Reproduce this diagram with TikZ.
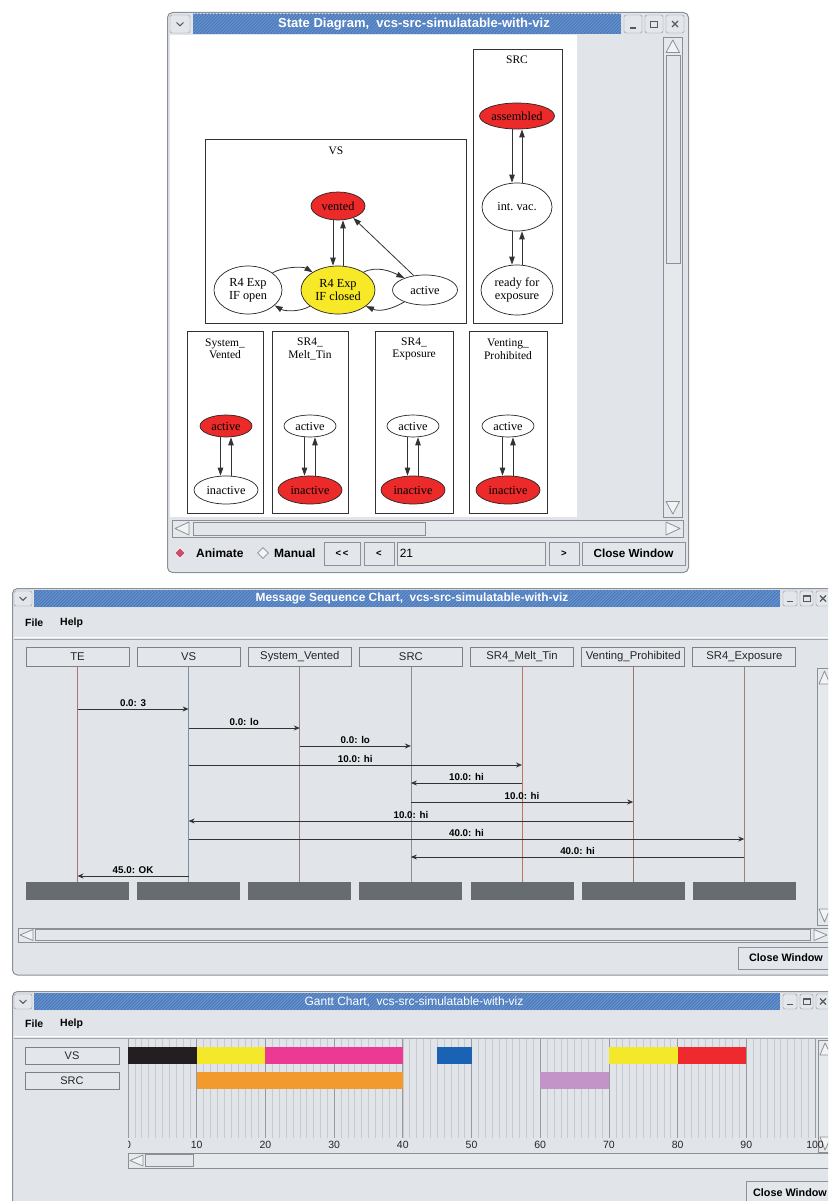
\documentclass[tikz,border=0pt]{standalone}
\usepackage{fontspec}
\setmainfont{Liberation Sans}
\newfontfamily\gvfont{Liberation Serif}
\usetikzlibrary{arrows.meta,shapes.geometric}

\definecolor{winbg}{HTML}{E1E4E8}
\definecolor{framec}{HTML}{8C9096}
\definecolor{btnfill}{HTML}{E3E6EA}
\definecolor{btnedge}{HTML}{8E9298}
\definecolor{sbtrack}{HTML}{E6E9EC}
\definecolor{titleblue}{HTML}{4A79BC}
\definecolor{titlehatch}{HTML}{6C95CE}
\definecolor{gvred}{HTML}{EC2A2A}
\definecolor{gvyellow}{HTML}{F7E928}
\definecolor{endblock}{HTML}{676C70}
\definecolor{ganttblack}{HTML}{231F20}
\definecolor{ganttyellow}{HTML}{F4E82A}
\definecolor{ganttpink}{HTML}{EC3A94}
\definecolor{ganttblue}{HTML}{1A62B4}
\definecolor{ganttred}{HTML}{EE2A2E}
\definecolor{ganttorange}{HTML}{F39A2E}
\definecolor{ganttlilac}{HTML}{C294C8}
\definecolor{radiopink}{HTML}{C8506E}
\definecolor{gridminor}{HTML}{C6CACE}
\definecolor{gridmajor}{HTML}{979BA0}
\definecolor{lineTE}{HTML}{A8766E}
\definecolor{lineVS}{HTML}{7A92A4}
\definecolor{lineSV}{HTML}{968480}
\definecolor{lineSRC}{HTML}{8A9096}
\definecolor{lineMT}{HTML}{C0735E}
\definecolor{lineVP}{HTML}{A07470}
\definecolor{lineEX}{HTML}{94847E}

% blue hatched strip behind a window title
\newcommand\titlestrip[4]{%
  \fill[titleblue] (#1,#2) rectangle (#3,#4);
  \begin{scope}
    \clip (#1,#2) rectangle (#3,#4);
    \foreach \k in {0,3.2,...,800} \draw[titlehatch, line width=0.9pt] ({#1-24+\k},#4) -- ++(24,-24);
  \end{scope}}
% window menu button with chevron
\newcommand\menubtn[4]{%
  \draw[btnedge, fill=btnfill, rounded corners=2pt] (#1,#2) rectangle (#3,#4);
  \draw[black!65, line width=1pt] ({(#1+#3)/2-3.5},{(#2+#4)/2-1.5}) -- ({(#1+#3)/2},{(#2+#4)/2+1.8}) -- ({(#1+#3)/2+3.5},{(#2+#4)/2-1.5});}
\newcommand\minbtn[4]{%
  \draw[btnedge, fill=btnfill, rounded corners=1.5pt] (#1,#2) rectangle (#3,#4);
  \fill[black!65] ({(#1+#3)/2-3},{#4-5.5}) rectangle ({(#1+#3)/2+3},{#4-3.8});}
\newcommand\maxbtn[4]{%
  \draw[btnedge, fill=btnfill, rounded corners=1.5pt] (#1,#2) rectangle (#3,#4);
  \draw[black!65, line width=0.8pt] ({(#1+#3)/2-3.5},{(#2+#4)/2-3}) rectangle ({(#1+#3)/2+3.5},{(#2+#4)/2+3});
  \draw[black!65, line width=1.6pt] ({(#1+#3)/2-3.5},{(#2+#4)/2-2.4}) -- ({(#1+#3)/2+3.5},{(#2+#4)/2-2.4});}
\newcommand\closebtn[4]{%
  \draw[btnedge, fill=btnfill, rounded corners=1.5pt] (#1,#2) rectangle (#3,#4);
  \draw[black!65, line width=1.2pt] ({(#1+#3)/2-3},{(#2+#4)/2-3}) -- ({(#1+#3)/2+3},{(#2+#4)/2+3})
    ({(#1+#3)/2-3},{(#2+#4)/2+3}) -- ({(#1+#3)/2+3},{(#2+#4)/2-3});}

\begin{document}
\begin{tikzpicture}[x=1pt,y=-1pt,
  titletext/.style={text=white, inner sep=0pt},
  menutext/.style={anchor=west, inner sep=0pt, font=\bfseries\fontsize{10.5}{12}\selectfont},
  gbtn/.style={draw=btnedge, fill=btnfill, line width=0.8pt, inner sep=0pt, font=\bfseries\fontsize{11.7}{13}\selectfont},
  field/.style={draw=framec, fill=sbtrack, line width=0.8pt, inner sep=0pt},
  sbedge/.style={draw=framec, fill=sbtrack, line width=0.8pt},
  sbthumb/.style={draw=framec, fill=btnfill, line width=0.8pt},
  sbarrow/.style={draw=framec, fill=white!55!winbg, line width=0.8pt, line join=round},
  gvn/.style={ellipse, draw=black!85, line width=0.7pt, inner sep=0pt, align=center, fill=white,
    font=\gvfont\fontsize{12.3}{13}\selectfont},
  gvred/.style={gvn, fill=gvred},
  gvyel/.style={gvn, fill=gvyellow},
  gve/.style={draw=black!80, line width=0.8pt, -{Triangle[length=8pt,width=5.5pt]}},
  clus/.style={draw=black!80, line width=0.8pt},
  clab/.style={align=center, inner sep=0pt, font=\gvfont\fontsize{11.5}{12.5}\selectfont},
  hdr/.style={draw=black!50, fill=btnfill, line width=1pt, inner sep=0pt, text=black!85,
    font=\fontsize{11.3}{12}\selectfont},
  blk/.style={fill=endblock, minimum width=103pt, minimum height=18pt, inner sep=0pt},
  life/.style={line width=0.7pt},
  msg/.style={draw=black!80, line width=0.8pt, -{Stealth[length=6pt,width=5pt]}},
  mlabel/.style={midway, anchor=base, yshift=3pt, inner sep=0pt, font=\bfseries\fontsize{9.8}{10}\selectfont},
  tick/.style={inner sep=0pt, font=\fontsize{10.5}{11}\selectfont, text=black!85}
]
\useasboundingbox (0,0) rectangle (828,1201);
\fill[white] (0,0) rectangle (828,1201);
\begin{scope}
\clip (0,0) rectangle (828,1201);

%% ================= State diagram window =================
\draw[framec, fill=winbg, line width=1pt, rounded corners=5pt] (167.5,12.5) rectangle (688.5,572.5);
\menubtn{170}{15}{190}{33}
\titlestrip{193}{14}{621}{34}
\node[titletext, font=\bfseries\fontsize{13}{14}\selectfont] (sdtitle) at (414,24.5) {State Diagram,\ \ vcs-src-simulatable-with-viz};
\minbtn{624}{15}{642}{33}
\maxbtn{645}{15}{663}{33}
\closebtn{666}{15}{684}{33}
\fill[white] (170,35) rectangle (577,517);

% scrollbars
\draw[sbedge] (663.5,37) rectangle (682,517);
\draw[sbarrow] (672.8,40) -- (666,52.5) -- (679.5,52.5) -- cycle;
\draw[sbthumb] (666,55) rectangle (680,263);
\draw[sbarrow] (672.8,514) -- (666,501.5) -- (679.5,501.5) -- cycle;
\draw[sbedge] (172,520) rectangle (683,537);
\draw[sbarrow] (175,528.5) -- (189,522) -- (189,535) -- cycle;
\draw[sbthumb] (193,522) rectangle (425,535.5);
\draw[sbarrow] (680,528.5) -- (666,522) -- (666,535) -- cycle;

% bottom controls
\node[diamond, fill=radiopink, draw=white, line width=0.8pt, minimum size=11pt, inner sep=0pt] (radioA) at (180,553) {};
\node[anchor=west, inner sep=0pt, font=\bfseries\fontsize{12}{13}\selectfont] (txtA) at (196,553) {Animate};
\node[diamond, fill=white!60!winbg, draw=framec, line width=0.8pt, minimum size=11pt, inner sep=0pt] (radioM) at (263,553) {};
\node[anchor=west, inner sep=0pt, font=\bfseries\fontsize{12}{13}\selectfont] (txtM) at (274,553) {Manual};
\node[gbtn, minimum width=36pt, minimum height=23pt, font=\bfseries\fontsize{9.5}{10}\selectfont] (bFirst) at (342,553.5) {<\,<};
\node[gbtn, minimum width=30pt, minimum height=23pt, font=\bfseries\fontsize{9.5}{10}\selectfont] (bPrev) at (379,553.5) {<};
\node[field, minimum width=148pt, minimum height=23pt] (fStep) at (471,553.5) {};
\node[anchor=west, inner sep=0pt, font=\fontsize{12}{13}\selectfont] (fVal) at ([xshift=3pt]fStep.west) {21};
\node[gbtn, minimum width=30pt, minimum height=23pt, font=\bfseries\fontsize{9.5}{10}\selectfont] (bNext) at (564,553.5) {>};
\node[gbtn, minimum width=103pt, minimum height=23pt] (bCloseSD) at (633.5,553.5) {Close Window};

% SRC cluster
\draw[clus] (473,49) rectangle (562,323);
\node[clab] (labSRC) at (517,60) {SRC};
\node[gvred, minimum width=75pt, minimum height=26pt] (assembled) at (517,116) {assembled};
\node[gvn, minimum width=70pt, minimum height=48pt] (intvac) at (517,207) {int.\ vac.};
\node[gvn, minimum width=72pt, minimum height=50pt] (ready) at (517,290) {ready for\\exposure};
\draw[gve] ([xshift=-5pt]assembled.south) -- ([xshift=-5pt]intvac.north);
\draw[gve] ([xshift=5pt]intvac.north) -- ([xshift=5pt]assembled.south);
\draw[gve] ([xshift=-5pt]intvac.south) -- ([xshift=-5pt]ready.north);
\draw[gve] ([xshift=5pt]ready.north) -- ([xshift=5pt]intvac.south);

% VS cluster
\draw[clus] (205,139) rectangle (466,323);
\node[clab] (labVS) at (336,151) {VS};
\node[gvred, minimum width=54pt, minimum height=28pt] (vented) at (338,206) {vented};
\node[gvyel, minimum width=74pt, minimum height=48pt] (ifclosed) at (338,290) {R4 Exp\\IF closed};
\node[gvn, minimum width=68pt, minimum height=48pt] (ifopen) at (248,290) {R4 Exp\\IF open};
\node[gvn, minimum width=65pt, minimum height=30pt] (vsactive) at (425,290) {active};
\draw[gve] ([xshift=-5pt]vented.south) -- ([xshift=-5pt]ifclosed.north);
\draw[gve] ([xshift=5pt]ifclosed.north) -- ([xshift=5pt]vented.south);
\draw[gve] (vsactive.128) -- (vented.-38);
\draw[gve] (ifopen.35) .. controls +(10,-6) and +(-10,-6) .. (ifclosed.145);
\draw[gve] (ifclosed.210) .. controls +(-10,6) and +(10,6) .. (ifopen.-30);
\draw[gve] (ifclosed.35) .. controls +(14,-7) and +(-12,-6) .. (vsactive.150);
\draw[gve] (vsactive.210) .. controls +(-12,7) and +(14,6) .. (ifclosed.-30);

% two-state clusters
\draw[clus] (187,331) rectangle (263,513);
\node[clab] (labSV) at (225,349) {System\_\\Vented};
\node[gvred, minimum width=52pt, minimum height=22pt] (svA) at (226,426) {active};
\node[gvn, minimum width=64pt, minimum height=28pt] (svI) at (226,490) {inactive};
\draw[clus] (272,331) rectangle (348,513);
\node[clab] (labMT) at (310,349) {SR4\_\\Melt\_Tin};
\node[gvn, minimum width=52pt, minimum height=22pt] (mtA) at (310,426) {active};
\node[gvred, minimum width=64pt, minimum height=28pt] (mtI) at (310,490) {inactive};
\draw[clus] (375,331) rectangle (453,513);
\node[clab] (labEX) at (414,349) {SR4\_\\Exposure};
\node[gvn, minimum width=52pt, minimum height=22pt] (exA) at (413,426) {active};
\node[gvred, minimum width=64pt, minimum height=28pt] (exI) at (413,490) {inactive};
\draw[clus] (469,331) rectangle (547,513);
\node[clab] (labVP) at (508,349) {Venting\_\\Prohibited};
\node[gvn, minimum width=52pt, minimum height=22pt] (vpA) at (508,426) {active};
\node[gvred, minimum width=64pt, minimum height=28pt] (vpI) at (508,490) {inactive};
\foreach \a/\i in {svA/svI, mtA/mtI, exA/exI, vpA/vpI}{
  \draw[gve] ([xshift=-5.5pt]\a.south) -- ([xshift=-5.5pt]\i.north);
  \draw[gve] ([xshift=5pt]\i.north) -- ([xshift=5pt]\a.south);
}

%% ================= Message sequence chart window =================
\draw[framec, fill=winbg, line width=1pt, rounded corners=5pt] (12.5,588.5) rectangle (850,975);
\menubtn{14}{591}{32}{606}
\titlestrip{34}{590}{780}{607}
\node[titletext, font=\bfseries\fontsize{11.9}{13}\selectfont] (msctitle) at (412,598.5) {Message Sequence Chart,\ \ vcs-src-simulatable-with-viz};
\minbtn{783}{591}{797}{606}
\maxbtn{800}{591}{813}{606}
\closebtn{816}{591}{830}{606}
\node[menutext] (mscFile) at (25,623) {File};
\node[menutext] (mscHelp) at (60,623) {Help};
\draw[white, line width=1pt] (14,637.5) -- (850,637.5);
\draw[framec!80, line width=1pt] (14,639) -- (850,639);

% instance heads
\node[hdr, minimum width=103pt, minimum height=19pt] (TE) at (77.5,656.5) {TE};
\node[hdr, minimum width=103pt, minimum height=19pt] (VS) at (188.6,656.5) {VS};
\node[hdr, minimum width=103pt, minimum height=19pt] (SV) at (299.8,656.5) {System\_Vented};
\node[hdr, minimum width=103pt, minimum height=19pt] (SRC) at (410.9,656.5) {SRC};
\node[hdr, minimum width=103pt, minimum height=19pt] (MT) at (522,656.5) {SR4\_Melt\_Tin};
\node[hdr, minimum width=103pt, minimum height=19pt] (VP) at (633.2,656.5) {Venting\_Prohibited};
\node[hdr, minimum width=103pt, minimum height=19pt] (EX) at (744.3,656.5) {SR4\_Exposure};
% instance ends
\node[blk] (TEe) at (77.5,891) {};
\node[blk] (VSe) at (188.6,891) {};
\node[blk] (SVe) at (299.8,891) {};
\node[blk] (SRCe) at (410.9,891) {};
\node[blk] (MTe) at (522,891) {};
\node[blk] (VPe) at (633.2,891) {};
\node[blk] (EXe) at (744.3,891) {};
% lifelines
\draw[life, lineTE] (TE) -- (TEe);
\draw[life, lineVS] (VS) -- (VSe);
\draw[life, lineSV] (SV) -- (SVe);
\draw[life, lineSRC] (SRC) -- (SRCe);
\draw[life, lineMT] (MT) -- (MTe);
\draw[life, lineVP] (VP) -- (VPe);
\draw[life, lineEX] (EX) -- (EXe);
% messages
\draw[msg] (TE |- 0,709) -- (VS |- 0,709) node[mlabel] {0.0: 3};
\draw[msg] (VS |- 0,728) -- (SV |- 0,728) node[mlabel] {0.0: lo};
\draw[msg] (SV |- 0,746) -- (SRC |- 0,746) node[mlabel] {0.0: lo};
\draw[msg] (VS |- 0,765) -- (MT |- 0,765) node[mlabel] {10.0: hi};
\draw[msg] (MT |- 0,783) -- (SRC |- 0,783) node[mlabel] {10.0: hi};
\draw[msg] (SRC |- 0,802) -- (VP |- 0,802) node[mlabel] {10.0: hi};
\draw[msg] (VP |- 0,821) -- (VS |- 0,821) node[mlabel] {10.0: hi};
\draw[msg] (VS |- 0,839) -- (EX |- 0,839) node[mlabel] {40.0: hi};
\draw[msg] (EX |- 0,857) -- (SRC |- 0,857) node[mlabel] {40.0: hi};
\draw[msg] (VS |- 0,876) -- (TE |- 0,876) node[mlabel] {45.0: OK};

% scrollbars
\draw[sbedge] (817,668) rectangle (834,925);
\draw[sbarrow] (824.5,671) -- (819,684) -- (830,684) -- cycle;
\draw[sbarrow] (824.5,922) -- (819,909) -- (830,909) -- cycle;
\draw[sbedge] (18,928) rectangle (834,942);
\draw[sbarrow] (20,935) -- (33,929.5) -- (33,940.5) -- cycle;
\draw[sbthumb] (35,929.5) rectangle (810,940.5);
\draw[sbarrow] (827,935) -- (814,929.5) -- (814,940.5) -- cycle;
\node[gbtn, minimum width=96pt, minimum height=22pt, font=\bfseries\fontsize{10.8}{12}\selectfont] (bCloseMSC) at (786,958) {Close Window};

%% ================= Gantt chart window =================
\draw[framec, fill=winbg, line width=1pt, rounded corners=5pt] (12.5,991.5) rectangle (850,1215);
\menubtn{14}{994}{32}{1009}
\titlestrip{34}{993}{780}{1010}
\node[titletext, font=\fontsize{12}{13}\selectfont] (gtitle) at (414,1001.5) {Gantt Chart,\ \ vcs-src-simulatable-with-viz};
\minbtn{783}{994}{797}{1009}
\maxbtn{800}{994}{813}{1009}
\closebtn{816}{994}{830}{1009}
\node[menutext] (gFile) at (25,1024) {File};
\node[menutext] (gHelp) at (60,1024) {Help};
\draw[white, line width=1pt] (14,1036.5) -- (850,1036.5);
\draw[framec!80, line width=1pt] (14,1038) -- (850,1038);

\node[hdr, minimum width=94pt, minimum height=17pt, font=\fontsize{11}{12}\selectfont] (gVS) at (72,1055.5) {VS};
\node[hdr, minimum width=94pt, minimum height=17pt, font=\fontsize{11}{12}\selectfont] (gSRC) at (72,1080.5) {SRC};

% scrollbars (drawn under the time axis labels)
\draw[sbedge] (818,1040) rectangle (834,1152);
\draw[sbarrow] (825,1043) -- (820,1055) -- (831,1055) -- cycle;
\draw[sbarrow] (825,1150) -- (820,1137) -- (831,1137) -- cycle;
\draw[sbedge] (128,1153) rectangle (834,1168);
\draw[sbarrow] (130,1160.5) -- (143,1155) -- (143,1166) -- cycle;
\draw[sbthumb] (145,1154.5) rectangle (193,1166.5);

\begin{scope}[shift={(128,0)}, x=6.87pt]
  \foreach \t in {0,...,100} \draw[gridminor, line width=0.5pt] (\t,1039) -- (\t,1138);
  \foreach \t in {0,10,...,100} \draw[gridmajor, line width=0.7pt] (\t,1039) -- (\t,1138);
  % VS activity
  \fill[ganttblack] (0,1047) rectangle (10,1064);
  \fill[ganttyellow] (10,1047) rectangle (20,1064);
  \fill[ganttpink] (20,1047) rectangle (40,1064);
  \fill[ganttblue] (45,1047) rectangle (50,1064);
  \fill[ganttyellow] (70,1047) rectangle (80,1064);
  \fill[ganttred] (80,1047) rectangle (90,1064);
  % SRC activity
  \fill[ganttorange] (10,1072) rectangle (40,1089);
  \fill[ganttlilac] (60,1072) rectangle (70,1089);
  \foreach \t in {10,20,...,100} \node[tick] at (\t,1145) {\t};
\end{scope}
\begin{scope}
  \clip (128,1136) rectangle (140,1152);
  \node[tick] (tick0) at (128,1145) {0};
\end{scope}

\node[gbtn, minimum width=88pt, minimum height=24pt, font=\bfseries\fontsize{10.8}{12}\selectfont] (bCloseG) at (790,1193) {Close Window};

\end{scope}
\end{tikzpicture}
\end{document}
